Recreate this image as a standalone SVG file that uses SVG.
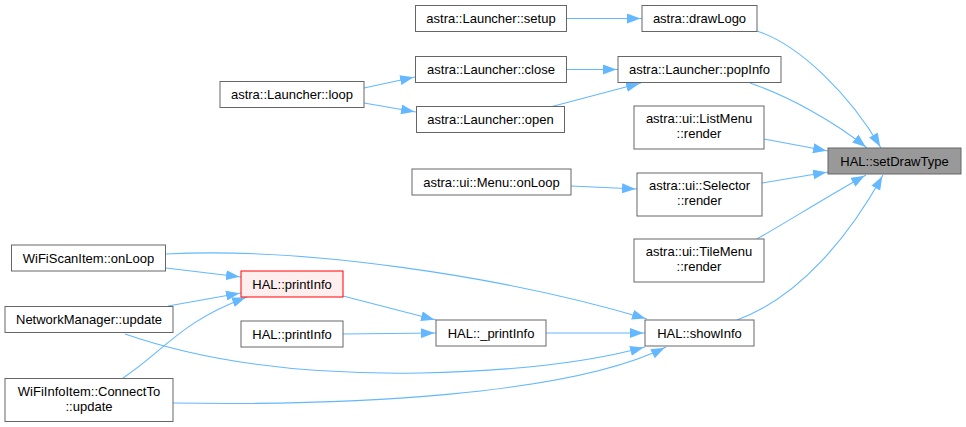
<svg xmlns="http://www.w3.org/2000/svg" width="966" height="427" viewBox="0 0 966 427">
<defs>
<style>
.n rect{fill:#fff;stroke:#666;stroke-width:1}
.n text{font-family:"Liberation Sans",Arial,sans-serif;font-size:13px;fill:#000;text-anchor:middle}
#n_setDrawType rect{fill:#999;stroke:#666}
#n_printInfoA rect{fill:#fee;stroke:#f00}
.e path{fill:none;stroke:#63b8ff;stroke-width:1.1;marker-end:url(#ah)}
</style>
<marker id="ah" markerUnits="userSpaceOnUse" markerWidth="16" markerHeight="10" refX="15" refY="5" orient="auto">
<path d="M0,0 L13.5,5 L0,10 z" fill="#63b8ff"/>
</marker>
</defs>
<rect width="966" height="427" fill="#fff"/>
<g id="edges" class="e">
<path d="M567,18.5 L642,18.5"/>
<path d="M566,69.5 L618,69.5"/>
<path d="M550,107 C580,99 615,90 641,83"/>
<path d="M364,88 L415,77"/>
<path d="M364,103 L416,112"/>
<path d="M757,31 C800,45 850,95 881,148"/>
<path d="M750,83 C790,97 835,122 867,148"/>
<path d="M764,139 L828,151"/>
<path d="M762,183 L828,172"/>
<path d="M757,239 C790,220 830,195 866,175"/>
<path d="M737,320 C800,297 850,235 883,175"/>
<path d="M571,186 L637,189"/>
<path d="M166,268 L241,277"/>
<path d="M166,254 C300,247 500,275 647,319"/>
<path d="M168,306 L241,293"/>
<path d="M123,378 C165,350 180,322 247,297"/>
<path d="M125,334 C200,360 300,375 420,373 C520,371 590,362 645,347"/>
<path d="M173,403 C350,406 570,395 666,347"/>
<path d="M343,296 L436,320"/>
<path d="M343,334 L436,333"/>
<path d="M546,333 L645,333"/>
</g>
<g id="n_setup" class="n"><rect x="415.5" y="5.5" width="151" height="26"/><text x="491" y="23">astra::Launcher::setup</text></g>
<g id="n_drawLogo" class="n"><rect x="642" y="5.5" width="115" height="26"/><text x="699.5" y="23">astra::drawLogo</text></g>
<g id="n_close" class="n"><rect x="415.5" y="56.5" width="151" height="26"/><text x="491" y="74">astra::Launcher::close</text></g>
<g id="n_popInfo" class="n"><rect x="618" y="56.5" width="163" height="26"/><text x="699.5" y="74">astra::Launcher::popInfo</text></g>
<g id="n_open" class="n"><rect x="416.5" y="106.5" width="148" height="26"/><text x="490.5" y="124">astra::Launcher::open</text></g>
<g id="n_loop" class="n"><rect x="220" y="81.5" width="144" height="26"/><text x="292" y="99">astra::Launcher::loop</text></g>
<g id="n_listMenu" class="n"><rect x="634" y="106" width="130" height="43"/><text x="699" y="123">astra::ui::ListMenu</text><text x="699" y="138">::render</text></g>
<g id="n_setDrawType" class="n"><rect x="828" y="148" width="133" height="26"/><text x="894.5" y="165.5">HAL::setDrawType</text></g>
<g id="n_menuOnLoop" class="n"><rect x="412" y="169" width="159" height="26"/><text x="491.5" y="186.5">astra::ui::Menu::onLoop</text></g>
<g id="n_selector" class="n"><rect x="637" y="173" width="125" height="43"/><text x="699.5" y="190">astra::ui::Selector</text><text x="699.5" y="205">::render</text></g>
<g id="n_tileMenu" class="n"><rect x="634" y="239" width="130" height="43"/><text x="699" y="256">astra::ui::TileMenu</text><text x="699" y="271">::render</text></g>
<g id="n_wifiScan" class="n"><rect x="11.5" y="245" width="154" height="26"/><text x="88.5" y="262.5">WiFiScanItem::onLoop</text></g>
<g id="n_printInfoA" class="n"><rect x="241" y="271" width="102" height="26"/><text x="292" y="288.5">HAL::printInfo</text></g>
<g id="n_netMgr" class="n"><rect x="5" y="306.5" width="168" height="26"/><text x="89" y="324">NetworkManager::update</text></g>
<g id="n_printInfoB" class="n"><rect x="241" y="321" width="102" height="26"/><text x="292" y="338.5">HAL::printInfo</text></g>
<g id="n_wifiInfo" class="n"><rect x="5" y="378.5" width="168" height="43"/><text x="89" y="395.5">WiFiInfoItem::ConnectTo</text><text x="89" y="410.5">::update</text></g>
<g id="n__printInfo" class="n"><rect x="436" y="320" width="110" height="26"/><text x="491" y="337.5">HAL::_printInfo</text></g>
<g id="n_showInfo" class="n"><rect x="645" y="320" width="109" height="26"/><text x="699.5" y="337.5">HAL::showInfo</text></g>
</svg>
